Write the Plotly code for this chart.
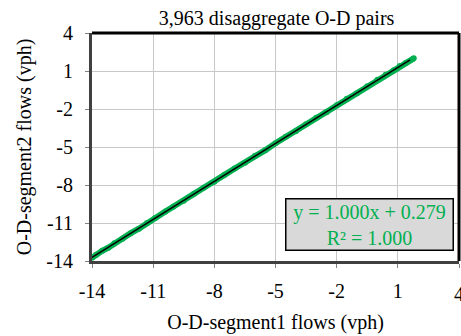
import plotly.graph_objects as go

seg1_flows = [-14.0, -13.8, -13.5, -13.2, -12.9, -12.5, -12.1, -11.7, -11.3, -10.9,
              -10.4, -10.0, -9.5, -9.0, -8.5, -8.0, -7.5, -7.0, -6.5, -6.0,
              -5.5, -5.0, -4.5, -4.0, -3.5, -3.0, -2.5, -2.0, -1.5, -1.0,
              -0.5, 0.0, 0.4, 0.8, 1.1, 1.4, 1.78]
seg2_flows = [-13.75, -13.5, -13.2, -12.95, -12.6, -12.25, -11.8, -11.45, -11.0, -10.6,
              -10.1, -9.7, -9.25, -8.7, -8.2, -7.75, -7.2, -6.7, -6.25, -5.7,
              -5.25, -4.7, -4.2, -3.75, -3.2, -2.7, -2.25, -1.7, -1.2, -0.75,
              -0.2, 0.3, 0.7, 1.05, 1.4, 1.65, 2.0]

# Linear trendline end points
trend_x = [-14.0, 1.6]
trend_y = [-13.72, 1.88]

ticks = [-14, -11, -8, -5, -2, 1, 4]
title_text = "3,963 disaggregate O-D pairs"
eq_text = "y = 1.000x + 0.279<br>R² = 1.000"

green = "#00B050"
font = "'Liberation Serif', 'Times New Roman', Times, serif"

fig = go.Figure()
fig.add_trace(go.Scatter(x=seg1_flows, y=seg2_flows, mode="lines+markers",
                         line=dict(color=green, width=6),
                         marker=dict(color=green, size=6), showlegend=False))
fig.add_trace(go.Scatter(x=trend_x, y=trend_y, mode="lines",
                         line=dict(color="black", width=1.5), showlegend=False))

axis_common = dict(range=[-14, 4], tickvals=ticks,
                   showgrid=True, gridcolor="#C8C8C8", gridwidth=1.2,
                   zeroline=False, showline=True, linecolor="#404040", linewidth=3,
                   ticks="outside", ticklen=4, tickcolor="#808080",
                   tickfont=dict(family=font, size=20, color="black"),
                   ticklabeloverflow="allow",
                   fixedrange=True)

# last x tick label drawn as an annotation so it stays at its tick (clipped by the page edge, as in the original)
x_ticktext = [str(t) for t in ticks[:-1]] + [""]

fig.update_layout(
    width=461, height=336,
    margin=dict(l=92, r=2, t=33, b=75),
    paper_bgcolor="white", plot_bgcolor="white",
    font=dict(family=font),
    title=dict(text=title_text, x=0.6, xanchor="center", y=0.945, yanchor="middle",
               font=dict(family=font, size=20, color="black")),
    xaxis=dict(axis_common, ticktext=x_ticktext, ticklabelstandoff=6,
               title=dict(text="O-D-segment1 flows (vph)",
               font=dict(family=font, size=20, color="black"), standoff=14)),
    yaxis=dict(axis_common, ticktext=[str(t) for t in ticks], ticklabelstandoff=8,
               title=dict(text="O-D-segment2 flows (vph)",
               font=dict(family=font, size=20, color="black"), standoff=10)),
    shapes=[
        dict(type="line", xref="paper", yref="paper", x0=0, x1=1, y0=1, y1=1,
             line=dict(color="black", width=3)),
        dict(type="line", xref="paper", yref="paper", x0=1, x1=1, y0=0, y1=1,
             line=dict(color="black", width=3)),
    ],
    annotations=[
        dict(text=eq_text, xref="paper", yref="paper", x=0.755, y=0.158,
             xanchor="center", yanchor="middle", showarrow=False,
             font=dict(family=font, size=20, color=green),
             bgcolor="#D9D9D9", bordercolor="black", borderwidth=1.5,
             borderpad=1, width=164, align="center"),
        dict(text=str(ticks[-1]), xref="x", yref="paper", x=ticks[-1], y=0,
             xanchor="center", yanchor="top", yshift=-20, showarrow=False,
             font=dict(family=font, size=20, color="black")),
    ],
)

fig.write_html("out.html")
